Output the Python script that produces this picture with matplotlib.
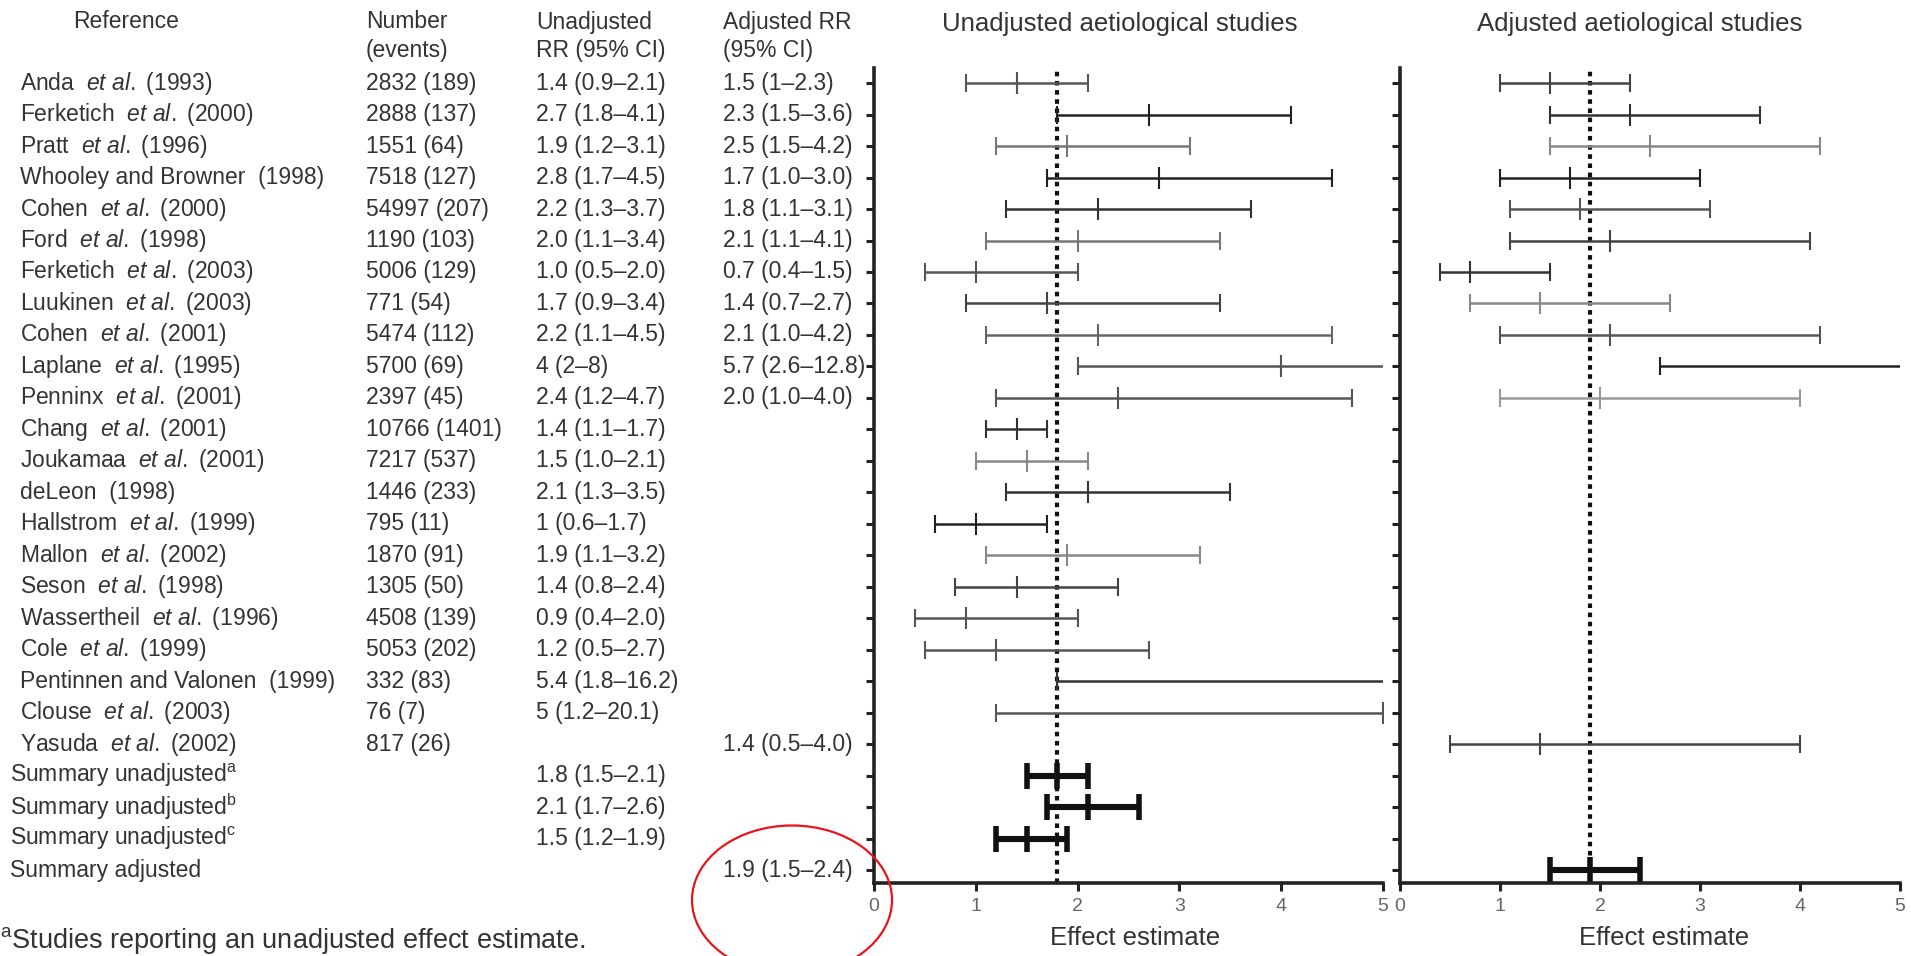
import matplotlib.pyplot as plt
import matplotlib.transforms as mtransforms
from matplotlib.patches import Ellipse

plt.rcParams['font.family'] = ['Liberation Sans', 'DejaVu Sans']
plt.rcParams['mathtext.fontset'] = 'custom'
plt.rcParams['mathtext.rm'] = 'Liberation Sans'
plt.rcParams['mathtext.it'] = 'Liberation Sans:italic'

# Dados das tabelas (valores como impressos)
autores = ["Anda", "Ferketich", "Pratt", "Whooley and Browner", "Cohen", "Ford",
           "Ferketich", "Luukinen", "Cohen", "Laplane", "Penninx", "Chang",
           "Joukamaa", "deLeon", "Hallstrom", "Mallon", "Seson", "Wassertheil",
           "Cole", "Pentinnen and Valonen", "Clouse", "Yasuda"]
et_al = [True, True, True, False, True, True, True, True, True, True, True, True,
         True, False, True, True, True, True, True, False, True, True]
anos = ["1993", "2000", "1996", "1998", "2000", "1998", "2003", "2003", "2001", "1995",
        "2001", "2001", "2001", "1998", "1999", "2002", "1998", "1996", "1999", "1999",
        "2003", "2002"]
numero = ["2832", "2888", "1551", "7518", "54997", "1190", "5006", "771", "5474", "5700",
          "2397", "10766", "7217", "1446", "795", "1870", "1305", "4508", "5053", "332",
          "76", "817"]
eventos = ["189", "137", "64", "127", "207", "103", "129", "54", "112", "69", "45", "1401",
           "537", "233", "11", "91", "50", "139", "202", "83", "7", "26"]

# RR nao ajustado: estimativa, inferior, superior (None = nao reportado)
nao_aj_rr = ["1.4", "2.7", "1.9", "2.8", "2.2", "2.0", "1.0", "1.7", "2.2", "4", "2.4",
             "1.4", "1.5", "2.1", "1", "1.9", "1.4", "0.9", "1.2", "5.4", "5", None]
nao_aj_lo = ["0.9", "1.8", "1.2", "1.7", "1.3", "1.1", "0.5", "0.9", "1.1", "2", "1.2",
             "1.1", "1.0", "1.3", "0.6", "1.1", "0.8", "0.4", "0.5", "1.8", "1.2", None]
nao_aj_hi = ["2.1", "4.1", "3.1", "4.5", "3.7", "3.4", "2.0", "3.4", "4.5", "8", "4.7",
             "1.7", "2.1", "3.5", "1.7", "3.2", "2.4", "2.0", "2.7", "16.2", "20.1", None]

# RR ajustado
aj_rr = ["1.5", "2.3", "2.5", "1.7", "1.8", "2.1", "0.7", "1.4", "2.1", "5.7", "2.0",
         None, None, None, None, None, None, None, None, None, None, "1.4"]
aj_lo = ["1", "1.5", "1.5", "1.0", "1.1", "1.1", "0.4", "0.7", "1.0", "2.6", "1.0",
         None, None, None, None, None, None, None, None, None, None, "0.5"]
aj_hi = ["2.3", "3.6", "4.2", "3.0", "3.1", "4.1", "1.5", "2.7", "4.2", "12.8", "4.0",
         None, None, None, None, None, None, None, None, None, None, "4.0"]

# Resumos
resumo_rotulos = ["Summary unadjusted$^{\\mathrm{a}}$", "Summary unadjusted$^{\\mathrm{b}}$",
                  "Summary unadjusted$^{\\mathrm{c}}$", "Summary adjusted"]
resumo_rr = ["1.8", "2.1", "1.5", "1.9"]
resumo_lo = ["1.5", "1.7", "1.2", "1.5"]
resumo_hi = ["2.1", "2.6", "1.9", "2.4"]
resumo_ajustado = [False, False, False, True]

# Estilos (cores por linha)
cores_nao_aj = ["#555555", "#222222", "#777777", "#222222", "#333333", "#777777",
                "#555555", "#444444", "#666666", "#555555", "#555555", "#333333",
                "#888888", "#333333", "#222222", "#888888", "#444444", "#555555",
                "#555555", "#333333", "#555555", None]
cores_aj = ["#444444", "#333333", "#888888", "#222222", "#555555", "#444444",
            "#333333", "#888888", "#555555", "#222222", "#999999", None, None, None,
            None, None, None, None, None, None, None, "#444444"]

W, H = 1911, 956
fig = plt.figure(figsize=(W / 100, H / 100), dpi=100)

def fx(px):
    return px / W

def fy(py):
    return 1 - py / H

ax1 = fig.add_axes([fx(874), fy(883), (1383 - 874) / W, (883 - 68) / H])
ax2 = fig.add_axes([fx(1400), fy(883), (1900 - 1400) / W, (883 - 68) / H])

n_estudos = len(autores)
n_linhas = n_estudos + len(resumo_rr)
linhas = list(range(1, n_linhas + 1))

def desenha_ic(ax, y, est, lo, hi, cor, grosso=False):
    est, lo, hi = float(est), float(lo), float(hi)
    if grosso:
        ax.errorbar([est], [y], xerr=[[est - lo], [hi - est]], fmt='|', color=cor,
                    ecolor=cor, elinewidth=4.4, capsize=9.5, capthick=3.4, markersize=19,
                    markeredgewidth=4)
    else:
        ax.errorbar([est], [y], xerr=[[est - lo], [hi - est]], fmt='|', color=cor,
                    ecolor=cor, elinewidth=1.8, capsize=6.5, capthick=1.6, markersize=16,
                    markeredgewidth=1.5)

for i in range(n_estudos):
    y = i + 1
    if nao_aj_rr[i] is not None:
        desenha_ic(ax1, y, nao_aj_rr[i], nao_aj_lo[i], nao_aj_hi[i], cores_nao_aj[i])
    if aj_rr[i] is not None:
        desenha_ic(ax2, y, aj_rr[i], aj_lo[i], aj_hi[i], cores_aj[i])

for j in range(len(resumo_rr)):
    y = n_estudos + j + 1
    ax = ax2 if resumo_ajustado[j] else ax1
    desenha_ic(ax, y, resumo_rr[j], resumo_lo[j], resumo_hi[j], "#111111", grosso=True)

# linhas de referencia pontilhadas
ref_nao_aj = float(resumo_rr[0])
ref_aj = float(resumo_rr[3])
ax1.axvline(ref_nao_aj, color="#111111", lw=3, linestyle=(0, (1.1, 1.1)), zorder=1)
ax2.axvline(ref_aj, color="#111111", lw=3, linestyle=(0, (1.1, 1.1)), zorder=1)

for ax in (ax1, ax2):
    ax.set_xlim(0, 5)
    ax.set_ylim(26.41, 0.52)
    ax.set_yticks(linhas)
    ax.set_yticklabels([])
    ax.set_xticks([0, 1, 2, 3, 4, 5])
    ax.spines['top'].set_visible(False)
    ax.spines['right'].set_visible(False)
    for s in ('left', 'bottom'):
        ax.spines[s].set_linewidth(2.6)
        ax.spines[s].set_color("#222222")
    ax.tick_params(axis='both', direction='out', length=6, width=2.2, color="#222222",
                   labelsize=14, labelcolor="#666666", pad=5)
    ax.set_facecolor('none')

# titulos e rotulos dos eixos
cor_txt = "#333333"
fig.text(fx(1120), fy(24), "Unadjusted aetiological studies", ha='center', va='center',
         fontsize=18.5, color=cor_txt)
fig.text(fx(1640), fy(24), "Adjusted aetiological studies", ha='center', va='center',
         fontsize=18.5, color=cor_txt)
fig.text(fx(1135), fy(938), "Effect estimate", ha='center', va='center', fontsize=18.5,
         color=cor_txt)
fig.text(fx(1664), fy(938), "Effect estimate", ha='center', va='center', fontsize=18.5,
         color=cor_txt)

# cabecalhos da tabela
tam = 16.5
cab = [(73, "Reference", ""), (366, "Number", "(events)"),
       (536, "Unadjusted", "RR (95% CI)"), (723, "Adjusted RR", "(95% CI)")]
for x, l1, l2 in cab:
    fig.text(fx(x), fy(22), l1, ha='left', va='center', fontsize=tam, color=cor_txt)
    if l2:
        fig.text(fx(x), fy(51), l2, ha='left', va='center', fontsize=tam, color=cor_txt)

trans = mtransforms.blended_transform_factory(fig.transFigure, ax1.transData)

def fmt_ic(rr, lo, hi):
    return f"{rr} ({lo}\u2013{hi})"

for i in range(n_estudos):
    y = i + 1
    if et_al[i]:
        rotulo = f"{autores[i]}  $\\it{{et\\ al.}}$ ({anos[i]})"
    else:
        rotulo = f"{autores[i]}  ({anos[i]})"
    fig.text(fx(20), y, rotulo, transform=trans, ha='left', va='center', fontsize=tam,
             color=cor_txt)
    fig.text(fx(366), y, f"{numero[i]} ({eventos[i]})", transform=trans, ha='left',
             va='center', fontsize=tam, color=cor_txt)
    if nao_aj_rr[i] is not None:
        fig.text(fx(536), y, fmt_ic(nao_aj_rr[i], nao_aj_lo[i], nao_aj_hi[i]),
                 transform=trans, ha='left', va='center', fontsize=tam, color=cor_txt)
    if aj_rr[i] is not None:
        fig.text(fx(723), y, fmt_ic(aj_rr[i], aj_lo[i], aj_hi[i]), transform=trans,
                 ha='left', va='center', fontsize=tam, color=cor_txt)

for j in range(len(resumo_rr)):
    y = n_estudos + j + 1
    fig.text(fx(10), y, resumo_rotulos[j], transform=trans, ha='left', va='center',
             fontsize=tam, color=cor_txt)
    xcol = 723 if resumo_ajustado[j] else 536
    fig.text(fx(xcol), y, fmt_ic(resumo_rr[j], resumo_lo[j], resumo_hi[j]),
             transform=trans, ha='left', va='center', fontsize=tam, color=cor_txt)

# nota de rodape
fig.text(fx(0), fy(940), "$^{\\mathrm{a}}$Studies reporting an unadjusted effect estimate.",
         ha='left', va='center', fontsize=19.5, color=cor_txt)

# destaque em vermelho
elipse = Ellipse((fx(792), fy(900)), 200 / W, 149 / H, transform=fig.transFigure,
                 fill=False, edgecolor='#e8141c', lw=1.6)
fig.add_artist(elipse)

fig.savefig("out.png", dpi=100)
